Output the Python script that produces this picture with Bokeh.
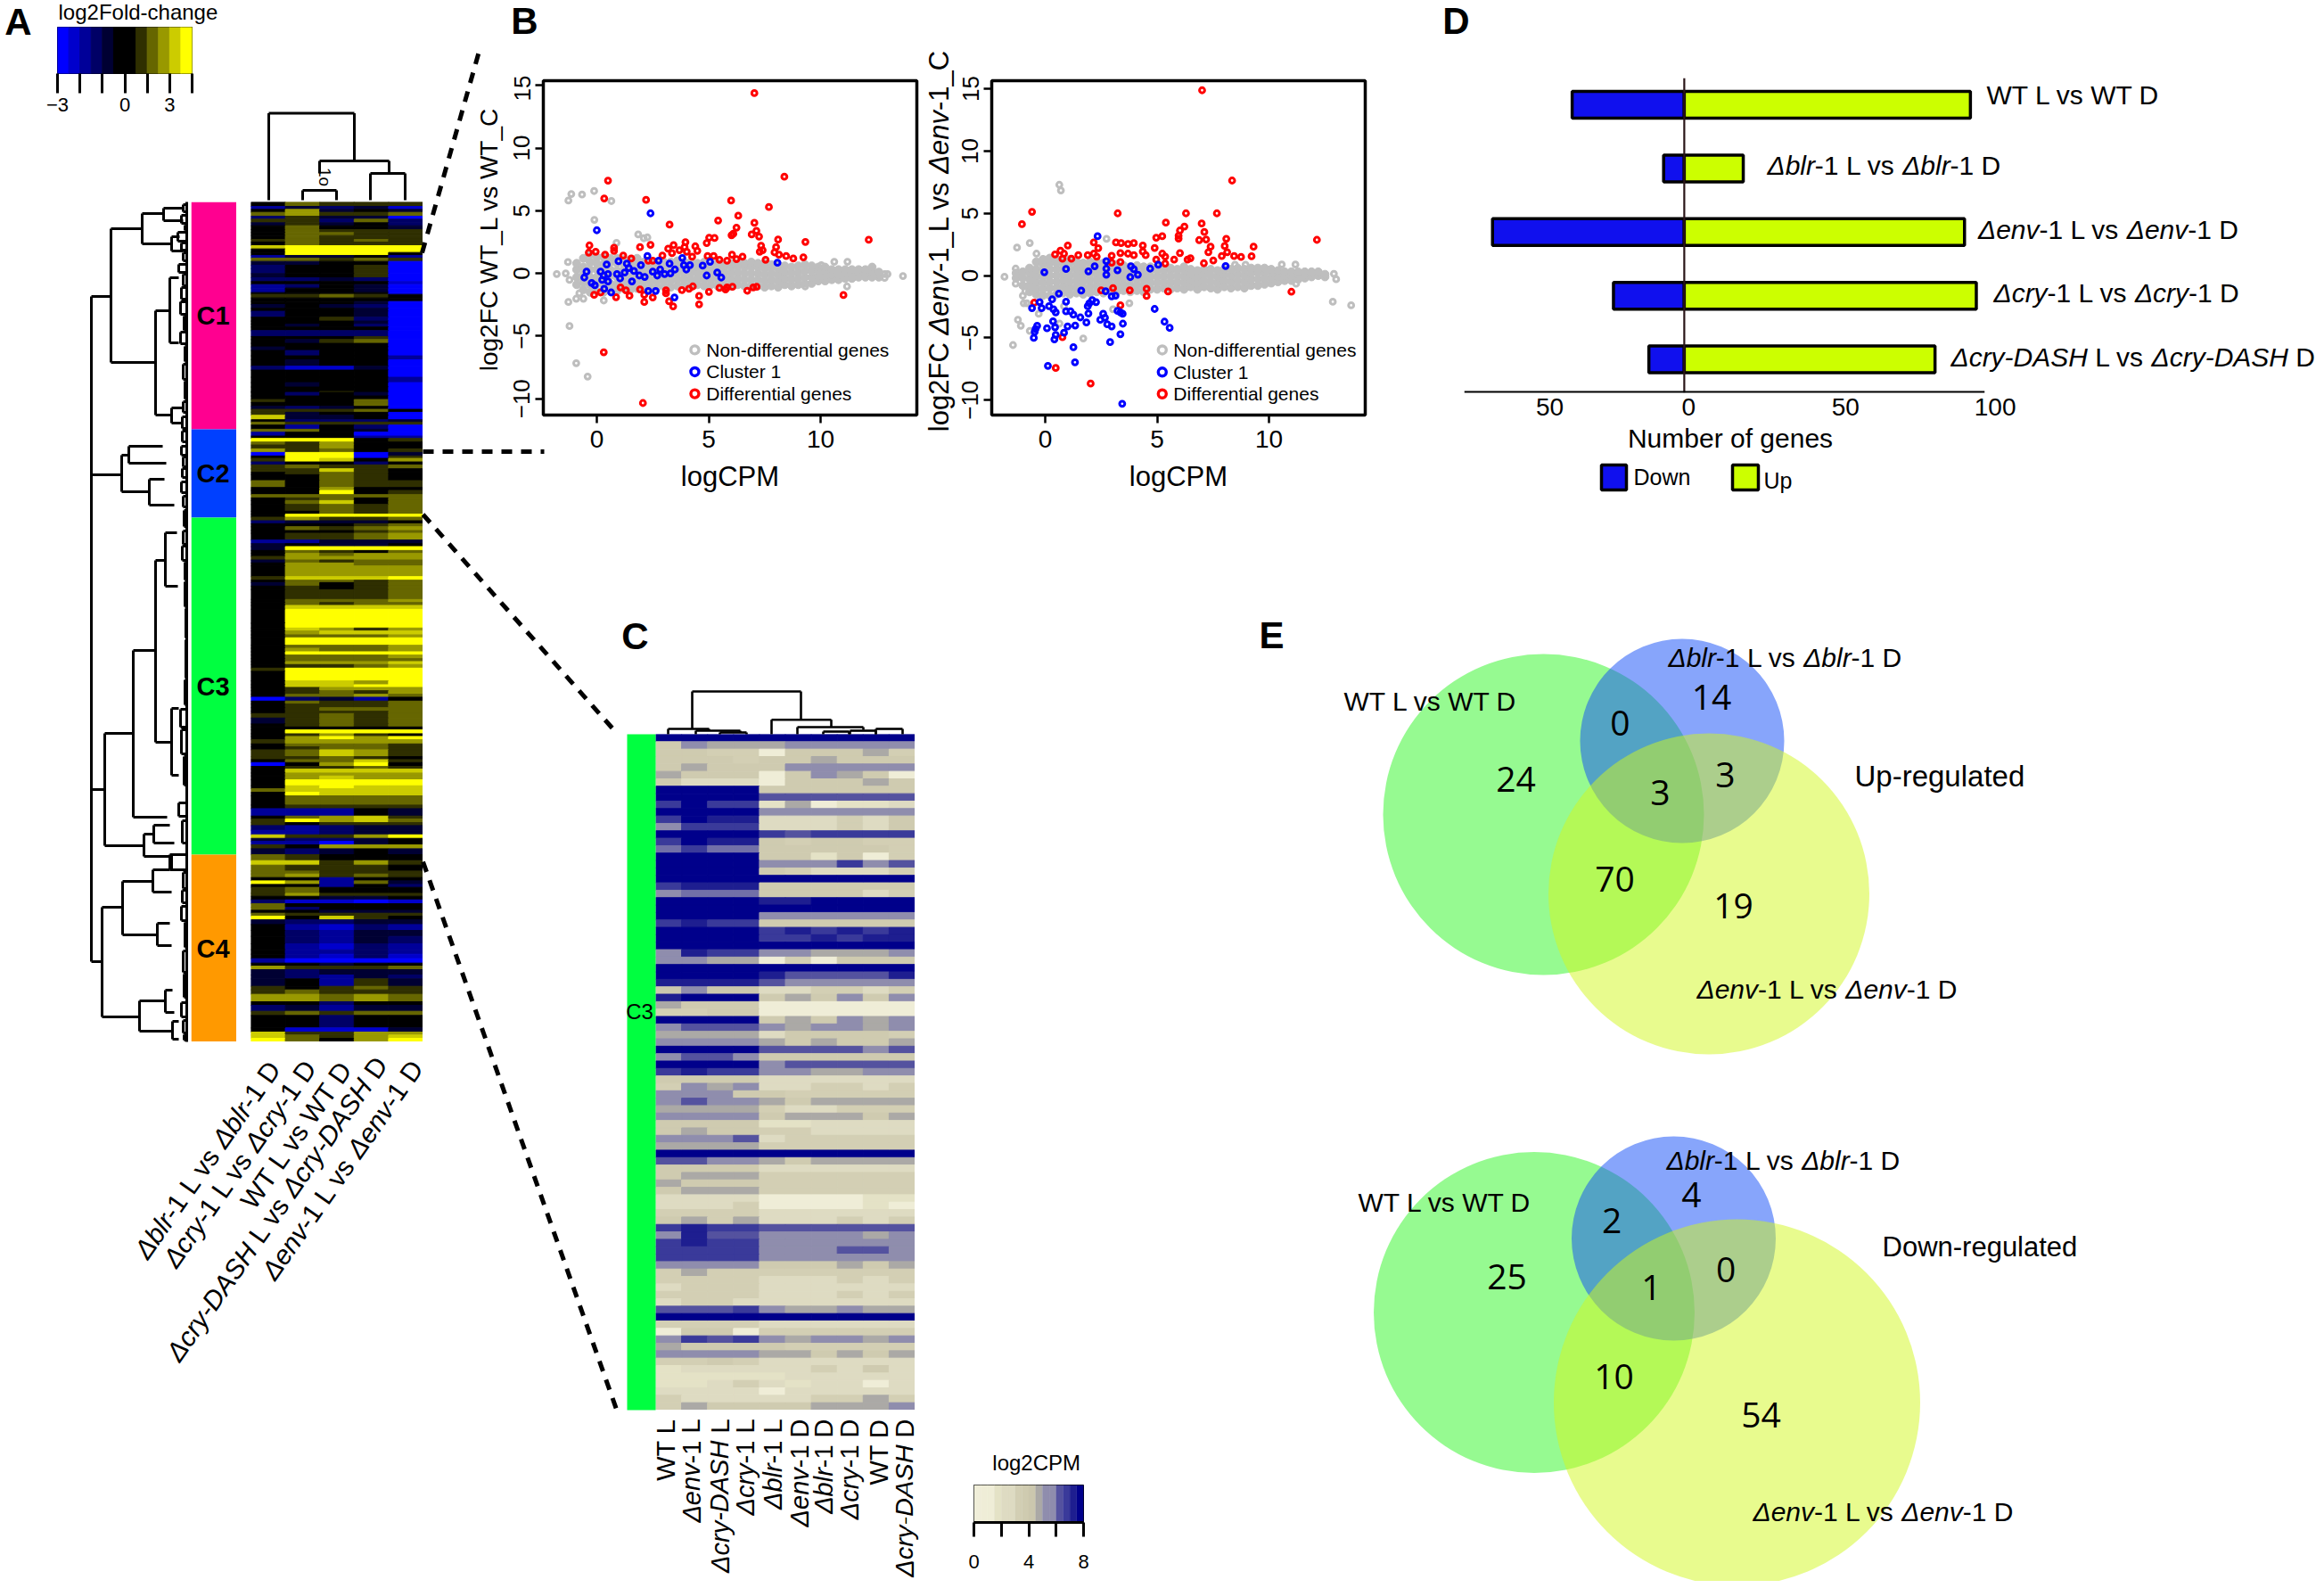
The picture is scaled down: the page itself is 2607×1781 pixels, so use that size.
from bokeh.plotting import figure
from bokeh.layouts import column
from bokeh.embed import file_html
from bokeh.resources import INLINE
from bokeh.core.properties import value
from bokeh.models import Range1d, FixedTicker, LinearColorMapper, ColumnDataSource

W, H = 2599, 1773
SANS = "Liberation Sans"

# ---------------- Panel A heatmap: band height, then level for each of 5 contrasts
A_COLS = ["blr", "cry", "WT", "DASH", "env"]
A_BANDS = [
[15,0,2,1,1,1],[10,-3,-1,-2,-1,-4],[10,0,3,-1,0,-1],[13,2,3,1,1,2],[10,-2,1,-1,-1,-5],[12,1,1,-2,2,-2],[10,-1,1,-1,0,-2],
[13,0,2,0,0,-1],[10,0,2,1,1,1],[10,0,2,2,1,1],[13,0,2,1,1,1],[9,1,2,1,2,1],[12,0,2,1,1,1],[11,4,5,5,5,5],[12,0,5,5,5,5],
[10,0,5,5,5,0],[9,-3,-1,-1,0,-3],[11,2,2,1,2,1],[13,-1,-1,0,0,-5],[12,-2,0,0,1,-5],[16,-2,0,0,1,-5],[14,-1,0,0,1,-5],
[13,-2,-2,-1,-2,-5],[10,0,0,0,0,-4],[12,-3,-2,0,-1,-5],[15,-3,0,0,-1,-5],[6,0,0,0,0,-5],[12,1,1,2,1,0],[12,0,0,0,0,0],
[10,0,0,0,-1,-5],[13,-1,0,-1,-2,-5],[10,0,0,0,-1,-5],[20,-2,0,0,-1,-5],[13,0,0,1,-2,-5],[10,0,0,0,-1,-5],[10,0,-1,0,-2,-5],
[12,0,0,0,0,-5],[20,-2,-2,-2,-2,-5],[10,0,0,0,1,-5],[13,0,-1,1,2,-5],[12,0,0,0,0,-5],[12,-1,0,0,0,-5],[18,0,-2,0,0,-5],
[13,0,0,0,0,-3],[22,0,-1,0,0,-5],[13,-2,-4,-4,-1,-5],[24,0,0,0,0,-5],[18,0,0,0,0,-3],[15,0,-1,0,0,-5],[15,0,0,0,0,-5],
[3,0,0,1,0,-5],[12,0,-2,0,-1,-5],[12,0,0,0,0,-5],[10,1,0,0,2,-5],[13,0,0,0,2,-5],[10,-1,-2,-1,0,-5],[10,1,1,1,2,0],
[10,1,-1,0,0,-5],[15,4,-1,-1,0,-5],[8,0,-2,-2,-2,-1],[10,2,1,1,1,1],[14,0,-3,0,-2,-5],[10,2,2,0,-1,-5],[13,-3,0,0,-5,-5],
[8,0,0,0,-3,-3],[12,5,5,5,0,1],[10,2,1,3,0,0],[13,1,1,3,0,0],[12,3,1,2,0,1],[12,-5,5,5,-5,-1],[8,0,5,5,-5,1],[12,1,5,4,0,3],
[10,-2,0,0,-2,0],[13,1,2,1,1,2],[12,1,1,4,1,0],[8,0,1,2,1,0],[20,0,0,2,1,0],[23,2,0,2,1,1],[10,0,0,3,0,0],[14,0,0,5,0,1],
[11,2,2,2,2,2],[9,0,1,2,0,2],[13,0,2,4,0,2],[23,0,1,2,1,2],[10,0,0,2,1,2],[10,0,5,5,5,5],[12,1,3,1,1,2],[10,-2,-1,-1,-1,0],
[10,0,0,0,1,2],[13,0,2,1,2,3],[9,0,0,0,1,2],[23,0,1,1,2,3],[12,-3,-3,-1,-1,-1],[10,-1,0,-1,-1,0],[13,-1,5,5,5,5],
[10,0,2,1,0,2],[10,0,3,2,3,3],[12,1,3,3,3,3],[10,-1,2,1,2,2],[10,0,3,3,2,2],[36,0,3,3,3,3],[12,1,4,4,4,5],[8,0,2,2,1,2],
[12,-1,2,0,1,2],[12,0,1,0,1,2],[33,0,1,1,1,2],[10,0,2,2,2,3],[10,0,2,1,2,2],[13,0,4,4,4,4],[47,0,5,5,5,5],
[16,0,5,5,5,5],[10,0,4,3,1,3],[13,0,3,4,4,4],[10,0,2,2,2,3],[25,0,5,5,5,5],[10,0,2,2,2,3],[12,0,3,2,2,3],[11,0,5,5,5,5],
[12,0,2,2,2,3],[10,0,2,2,2,2],[10,0,3,3,3,4],[12,0,1,1,2,3],[11,1,5,5,5,5],[32,0,5,5,5,5],[13,0,4,4,3,5],[9,0,4,4,5,5],
[11,0,1,3,3,3],[12,0,1,2,1,3],[10,0,2,2,3,2],[13,-5,-2,-1,-3,0],[10,0,2,1,1,2],[12,0,1,1,1,2],[12,0,1,2,2,2],[8,0,1,1,1,2],
[15,1,1,2,1,2],[20,-1,1,2,1,2],[10,0,1,2,1,2],[10,0,0,0,0,0],[13,0,5,5,5,5],[9,0,1,3,1,0],[11,0,3,5,3,5],[14,1,3,3,3,3],
[10,0,2,2,2,1],[10,0,1,2,2,1],[23,1,2,4,3,1],[10,1,1,2,1,0],[10,0,2,2,4,1],[13,-5,0,3,5,0],[9,0,1,1,2,1],[13,0,4,4,4,4],
[10,0,3,3,3,3],[13,0,3,4,3,3],[20,0,5,5,5,5],[10,0,4,5,4,4],[12,2,4,4,4,4],[12,0,5,4,4,4],[31,0,2,2,2,2],[12,0,1,1,1,1],
[25,-3,-3,-3,0,-1],[10,0,2,3,4,1],[12,1,5,3,4,2],[10,1,0,1,1,1],[16,-2,-3,-2,-1,-1],[15,-3,-3,-2,-1,-1],[12,4,1,1,3,5],
[10,-1,-2,-2,-1,0],[12,-3,-3,-5,-1,0],[13,1,0,3,3,3],[20,-1,-2,-1,0,-1],[20,2,1,0,0,0],[15,4,4,1,3,1],[20,2,1,1,1,0],
[10,2,2,1,1,1],[12,2,3,1,2,1],[11,0,0,-3,0,0],[12,5,3,-3,2,-1],[10,0,0,-3,0,-2],[20,1,2,0,0,0],[10,1,3,1,1,1],[12,0,0,-1,-1,0],
[13,-2,-4,-4,-5,-4],[12,2,0,0,0,0],[10,2,-2,0,0,0],[10,0,0,-1,-1,-1],[10,2,1,1,1,1],[12,5,0,4,1,0],[16,-1,-2,-2,-1,-1],
[20,0,-3,-4,-2,-3],[20,0,-2,-3,-1,-1],[25,0,-2,-3,-1,-2],[20,0,-3,-4,-2,-3],[15,0,-3,-3,-2,-3],[15,0,-3,-4,-2,-4],
[15,-3,-5,-5,-5,-5],[10,0,0,-1,0,0],[12,3,1,1,1,2],[18,-1,-2,-1,-1,-1],[13,-1,-2,-3,-1,-2],[25,-1,0,-3,1,-1],[12,1,0,1,2,1],
[15,1,2,1,1,1],[25,3,3,2,3,2],[12,0,0,-2,0,0],[20,-2,-1,-3,-1,-1],[14,1,2,1,2,2],[42,0,0,-2,0,0],[14,0,-4,-4,-4,-1],
[10,4,1,1,3,3],[11,4,2,1,3,4],[12,5,2,0,3,5],
]
A_LEVEL_COLORS = ["#0000ff","#0000cc","#000099","#000066","#000033","#000000","#2f2f00","#666600","#999900","#cccc00","#ffff00"]
A_BAR_COLORS = ["#0000ff","#0000cc","#000099","#000066","#000033","#000000","#000000","#2f2f00","#666600","#999900","#cccc00","#ffff00"]
A_BAR_TICKS = [-3,-2,-1,0,1,2,3]
A_BAR_LABELS = {-3:"\u22123",-2:"",-1:"",0:"0",1:"",2:"3",3:""}
A_LABELS = [[("\u0394blr",1),("-1 L vs ",0),("\u0394blr",1),("-1 D",0)],
            [("\u0394cry",1),("-1 L vs ",0),("\u0394cry",1),("-1 D",0)],
            [("WT L vs WT D",0)],
            [("\u0394cry-DASH",1),(" L vs ",0),("\u0394cry-DASH",1),(" D",0)],
            [("\u0394env",1),("-1 L vs ",0),("\u0394env",1),("-1 D",0)]]
CLUSTER_NAMES = ["C1","C2","C3","C4"]
CLUSTER_SIZES = [255,99,378,210]
CLUSTER_COLORS = ["#ff0090","#0040ff","#00ff40","#ff9900"]

# ---------------- Panel B: MA plots (logCPM, log2FC)
B1_RED_X = [7.04,8.38,.5,.33,2.2,6.0,7.69,6.32,5.42,3.25,7.04,6.24,7.13,6.92,7.25,6.02,6.1,5.02,5.26,4.91,8.1,9.32,12.15,-.33,-.36,-.05,.37,.77,.77,1.18,1.54,1.93,2.4,3.19,3.43,3.96,3.92,3.69,4.02,4.4,4.49,4.26,2.93,3.36,2.3,2.5,4.95,5.22,5.48,5.82,6.04,6.24,6.51,7.34,7.41,7.28,7.54,8.01,7.94,8.14,8.46,8.78,9.23,-.12,.17,.86,1.06,1.3,1.46,1.93,2.12,2.12,2.5,3.09,3.09,3.23,3.41,3.8,4.12,4.29,4.57,4.57,5.01,5.48,5.75,5.82,6.06,6.72,6.99,7.14,11.02,.31,2.06]
B1_RED_Y = [14.38,7.71,7.4,5.98,5.86,5.81,5.29,4.6,4.22,3.89,4.03,3.65,3.39,3.11,2.94,3.04,3.16,2.85,2.82,2.42,2.7,2.51,2.68,2.23,1.66,1.73,1.49,2.04,1.8,1.42,1.19,2.09,2.28,1.97,2.25,2.49,2.09,1.85,1.73,2.16,1.8,1.33,1.42,1.61,1.02,1.02,1.38,1.38,1.09,1.02,1.49,1.14,1.33,2.21,1.85,1.73,1.09,2.09,1.68,1.49,1.38,1.19,1.28,-1.71,-1.52,-1.9,-1.12,-1.35,-1.78,-1.28,-1.71,-2.28,-1.92,-1.35,-1.59,-2.23,-2.63,-1.33,-1.23,-1.04,-1.8,-2.47,-1.47,-1.16,-1.28,-1.12,-1.07,-1.38,-1.12,-1.07,-1.73,-6.29,-10.34]
B1_BLUE_X = [2.4,0,2.26,.97,2.76,3.82,3.25,1.34,.44,1.97,3.89,4.16,4.73,5.06,8.07,-.46,-.56,-.23,-.09,.17,.31,.5,.24,.5,.9,1.04,1.24,1.43,1.66,1.9,2.14,2.5,2.7,2.83,3.03,3.29,3.49,4.0,4.91,5.38,5.56,1.57,.33,.64,2.3,2.63,3.47]
B1_BLUE_Y = [4.79,3.44,1.38,.97,1.02,1.23,.78,.78,.71,.66,.66,.66,.62,.93,.85,.14,-.33,-.76,-.95,.14,-.17,-.05,-.52,-.64,-.05,-.4,.07,.43,.19,-.17,-.28,.14,-.17,.31,-.05,0,.31,.31,-.17,.07,-.33,-.64,-1.23,-1.52,-1.4,-1.4,-1.92]
B1_GREY_X = [-1.27,-1.14,-.66,-.12,.65,-.11,1.85,2.26,2.1,.88,-1.29,-1.79,-1.39,-1.22,-1.27,-.92,-.6,-.78,.31,-1.22,-.92,-.41,10.61,11.2,11.18,10.03,12.86,12.99,12.86,13.68,9.31]
B1_GREY_Y = [5.81,6.33,6.29,6.57,5.77,4.27,3.11,2.87,2.8,2.44,.9,-.05,0,-.52,-2.28,-2.02,-2.02,-1.59,-2.16,-4.2,-7.16,-8.23,.93,.93,-1.04,.66,-.05,-.05,-.36,-.21,-1.04]
B1_BAND = [
(-.9,[-.9,-.3,.3,.8]),(-.6,[-1.3,-.7,-.1,.5,1.2]),(-.3,[-1.5,-.9,-.3,.3,.9,1.5]),(0,[-1.4,-.8,-.3,.3,.8,1.3]),
(.3,[-1.5,-.9,-.4,.2,.7,1.3]),(.6,[-1.3,-.8,-.2,.3,.9,1.2]),(.9,[-1.4,-.9,-.3,.2,.8,1.2]),(1.2,[-1.2,-.7,-.2,.3,.8,1.1]),
(1.5,[-1.3,-.8,-.3,.2,.7,1.1]),(1.8,[-1.2,-.7,-.2,.3,.8,1.2]),(2.1,[-1.1,-.6,-.1,.4,.9]),(2.4,[-1.2,-.7,-.2,.3,.8]),
(2.7,[-1.1,-.6,-.1,.4,.9]),(3,[-1.0,-.5,0,.5,.9]),(3.3,[-1.1,-.6,-.1,.4,.9]),(3.6,[-1,-.5,0,.5,1]),(3.9,[-.9,-.4,.1,.5,.9]),
(4.2,[-1,-.5,0,.4,.9]),(4.5,[-.9,-.4,.1,.5,.8]),(4.8,[-1,-.5,0,.5,.9]),(5.1,[-.9,-.4,.1,.6]),(5.4,[-1,-.5,0,.5,.8]),
(5.7,[-.9,-.4,.1,.6]),(6,[-1,-.5,0,.5,.8]),(6.3,[-.9,-.4,.1,.6,.8]),(6.6,[-1,-.5,0,.5,.8]),(6.9,[-1,-.5,0,.5,.9]),
(7.2,[-1,-.5,0,.5,.8]),(7.5,[-1.1,-.6,-.1,.4,.8]),(7.8,[-1,-.5,0,.5,.7]),(8.1,[-1.1,-.6,-.1,.4,.7]),(8.4,[-.9,-.4,.1,.6]),
(8.7,[-1,-.5,0,.5]),(9,[-.9,-.4,.1,.6]),(9.3,[-.8,-.3,.2,.7]),(9.6,[-.8,-.3,.2,.6]),(9.9,[-.6,-.2,.2,.5]),(10.2,[-.6,-.2,.2,.5]),
(10.5,[-.5,-.1,.3]),(10.8,[-.5,-.1,.3]),(11.1,[-.4,0,.3]),(11.4,[-.4,0,.3]),(11.7,[-.3,.1,.3]),(12,[-.3,0,.3]),(12.3,[-.3,.1,.5]),(12.6,[-.3,-.1,.1]),
]
B2_RED_X = [7.01,8.35,-.59,-1.04,3.24,6.29,7.67,5.39,6.99,6.22,6.02,5.96,5.96,7.11,7.19,6.88,5.23,4.96,8.09,12.14,2.17,3.16,3.39,3.7,3.96,4.36,1.01,2.37,.68,.84,.44,1.48,1.9,1.17,.77,2.17,2.3,2.97,3.36,3.7,3.96,4.36,4.49,4.89,5.23,5.36,4.96,5.76,6.02,6.36,6.49,7.39,7.29,7.51,7.09,8.02,8.13,7.89,8.44,8.75,9.22,9.31,2.97,3.36,5.36,2.5,3.03,3.78,4.53,4.53,5.49,11.0,3.36,-.49,.77,.47,2.03]
B2_RED_Y = [14.88,7.63,5.12,4.13,5,5,5,4.25,4.18,3.94,3.62,3.21,2.97,3.5,2.9,2.85,3.16,3.04,2.95,2.87,2.66,2.66,2.61,2.54,2.61,2.42,2.42,2.2,2,1.76,1.69,1.64,1.64,1.35,1.35,1.76,1.52,1.59,1.81,1.76,1.64,1.93,1.64,2.22,1.76,1.52,1.28,1.28,1.81,1.28,1.4,2.32,1.88,1.21,.99,2.37,1.88,1.57,1.57,1.5,1.55,2.32,1.04,1.09,.97,-1.18,-1.01,-1.18,-1.06,-1.64,-1.28,-1.3,-2.39,-2.17,-4.95,-7.42,-8.67]
B2_BLUE_X = [2.34,2.73,2.73,2.73,2.21,1.93,.93,-.04,3.23,3.83,3.96,3.8,4.14,4.69,5.05,8.06,.61,1.61,2.7,2.97,3.14,-.25,.31,.93,-.59,-.16,.17,.37,.47,.93,1.13,1.26,1.57,1.97,1.9,2.1,2.27,1.93,1.84,4.89,2.59,2.67,2.46,2.77,2.97,3.23,3.36,3.46,3.47,.35,.08,.44,-.36,-.43,-.47,1.0,1.34,.84,.47,-.51,.41,3.36,2.9,5.33,5.56,1.26,1.33,.12,3.44]
B2_BLUE_Y = [3.16,1.16,.56,.07,.75,.34,.53,.27,.43,.75,.51,-.12,.07,.56,.87,.77,-1.45,-1.21,-1.26,-1.67,-1.62,-2.13,-1.91,-2.1,-2.61,-2.61,-2.46,-2.71,-2.95,-2.87,-2.87,-3.14,-3.36,-2.22,-2.46,-1.98,-2.13,-3.04,-3.77,-2.68,-3.07,-3.38,-3.55,-3.91,-4.08,-2.83,-2.95,-3.07,-3.86,-3.67,-4.23,-4.15,-4.03,-4.28,-4.52,-4.08,-4.01,-4.59,-4.76,-5.0,-5.12,-4.71,-5.34,-3.7,-4.2,-5.75,-6.96,-7.25,-10.29]
B2_GREY_X = [.63,.7,-.69,-1.26,-.39,2.74,-1.82,-1.32,-1.0,-.89,-.82,-.29,-1.22,-1.09,-.69,.64,1.7,-1.44,3.76,3.03,10.57,11.18,12.9,13.0,12.85,13.67,11.21,8.95,8.48,-1.32,-.96,.84]
B2_GREY_Y = [7.29,6.84,2.61,2.25,1.76,2.95,-.1,-.65,-1.62,-1.26,-2.22,-3.07,-3.55,-4.03,-4.44,-3.86,-5.05,-5.58,-2.22,-2.71,.89,.89,.14,-.29,-2.1,-2.39,-.65,.87,.87,.56,-2.22,-2.46]
B2_BAND = [
(-1.3,[-.2,.2]),(-1.0,[-.8,-.2,.3]),(-.7,[-1.3,-.8,-.3,.2,.6]),(-.4,[-1.5,-1,-.5,0,.5,1.1]),(-.1,[-1.6,-1.1,-.6,-.1,.4,.9,1.3]),
(.2,[-1.6,-1,-.5,0,.5,1,1.4]),(.5,[-1.5,-1,-.5,0,.5,1,1.3]),(.8,[-1.4,-.9,-.4,.1,.6,1.1]),(1.1,[-1.5,-1,-.5,0,.5,1,1.3]),
(1.4,[-1.4,-.9,-.4,.1,.6,1.1]),(1.7,[-1.5,-1,-.5,0,.5,1]),(2,[-1.4,-.9,-.4,.1,.6,1.1]),(2.3,[-1.3,-.8,-.3,.2,.7,1.1]),
(2.6,[-1.4,-.9,-.4,.1,.6,1]),(2.9,[-1.2,-.7,-.2,.3,.8]),(3.2,[-1.3,-.8,-.3,.2,.7,.9]),(3.5,[-1.2,-.7,-.2,.3,.8]),
(3.8,[-1.3,-.8,-.3,.2,.7]),(4.1,[-1.2,-.7,-.2,.3,.8]),(4.4,[-1.3,-.8,-.3,.2,.7]),(4.7,[-1.1,-.6,-.1,.4,.7]),(5,[-1.1,-.6,-.1,.4,.7]),
(5.3,[-1,-.5,0,.5]),(5.6,[-1.1,-.6,-.1,.4,.6]),(5.9,[-1,-.5,0,.5]),(6.2,[-1.1,-.6,-.1,.4,.7]),(6.5,[-.9,-.4,.1,.5]),
(6.8,[-1.1,-.6,-.1,.4]),(7.1,[-.9,-.4,.1,.5]),(7.4,[-1,-.5,0,.5]),(7.7,[-1.1,-.6,-.1,.4]),(8,[-.9,-.4,.1,.5]),
(8.3,[-1,-.5,0,.5]),(8.6,[-.9,-.4,.1,.6]),(8.9,[-1,-.5,0,.5]),(9.2,[-.8,-.3,.2,.6]),(9.5,[-.8,-.3,.2,.6]),(9.8,[-.7,-.2,.3,.6]),
(10.1,[-.6,-.2,.2,.5]),(10.4,[-.5,-.1,.3,.4]),(10.7,[-.4,0,.3]),(11,[-.4,0,.3]),(11.3,[-.3,.1,.3]),(11.6,[-.2,.1,.3]),(11.9,[-.1,.2,.3]),(12.2,[0,.2,.3]),(12.5,[-.1,.1]),
]
B_LEGEND = ["Non-differential genes","Cluster 1","Differential genes"]
B_LEGEND_COLORS = ["#bebebe","#0000ff","#ff0000"]

# ---------------- Panel C heatmap: log2CPM, columns as below
C_COLS = [[("WT L",0)],[("\u0394env",1),("-1 L",0)],[("\u0394cry-DASH",1),(" L",0)],[("\u0394cry",1),("-1 L",0)],[("\u0394blr",1),("-1 L",0)],
          [("\u0394env",1),("-1 D",0)],[("\u0394blr",1),("-1 D",0)],[("\u0394cry",1),("-1 D",0)],[("WT D",0)],[("\u0394cry-DASH",1),(" D",0)]]
C_ROWS = [
[8]*10,[4,6,5,5,5,6,6,6,5.5,6],[4,4,3.5,3.5,1.5,4,4,4,5,3.5],[4,4,4,3.5,4,4,5.2,4,4,4],[4,5,4,4,4,6,6,5.5,5.5,5.5],
[5,4,4,4,1,4,6,5,4,1.5],[4,2.5,2.5,2.5,1,4,4,4,5,4],[8,8,8,8,4,4,4,4,4,4],[8,8,8,8,6.5,6.5,6.5,6.5,6.5,6.5],[7,8,7,7,2,5,1.5,2,2,2.5],
[8,8,8,8,5.5,5.5,5.5,5.5,5.5,5.5],[7.2,8,7.5,7.5,3,3,3,3.5,3,4],[6,7,7,7,3,3,3,3.5,3,4],[8,8,8,8,7,6.5,7,7,7,7],[7,8,7.5,7.5,4,3.5,4,4,3.5,3.5],
[6.2,7,6.2,6.2,4,4,4,4,4,3.5],[8,8,8,8,4,4,2,4,1.5,3.5],[8,8,8,8,6,6,6,7,6,6.5],[8,8,8,8,4,3.5,3,3,3,3.5],[8]*10,
[7,7.5,7.5,7.5,4,4,4,4,4,4],[5.5,6.2,6.2,6.2,4,4,4,4,3,3.5],[8,8,8,8,7.5,7.5,8,8,8,8],[8]*10,[8,8,8,8,6,6,6,6,6,6],
[7,7.5,7,7,4,4,4,4,4,4],[8,8,8,8,7,7.8,7,7.8,7,7.8],[8,8,8,8,7,7,7.5,7,7.5,7.5],[8]*10,[6,7.5,7,7,5.5,5.5,5,5,5,5.5],
[5.5,6,5.3,5.3,1.5,3.5,1.5,4,4,4],[8]*10,[8,8,8,8,7.5,6.5,6.5,6.5,6.5,7.5],[7.5,7.5,7.5,7.5,6.5,6,6,6,6,6],[4.5,5.5,4.5,4.5,3,3,3.5,3.5,3,3.5],
[7.8,8,8,8,4,5,4,5.5,4,5.5],[5,4,4,4,1,1,1,1,1.5,1],[3.5,3.5,4,4,1,1,1,1,1,1],[8,8,8,8,4,5,4,5.5,5,5.5],[6,6.5,6.5,6.5,5.5,5,5.5,5.5,5,5.5],
[5.2,5.2,5.2,5.2,3,4,4,4,4,3.5],[6,6,6,6,5,4,5,4,4,5],[8,8,8,8,6.5,6.5,6.5,6.5,5.5,6.5],[5.5,6.5,6.5,6,4,4,4,4,4,4],[8,8,8,8,6,6.5,6.5,6.5,6.5,6.5],
[7,7.5,7,7,6,6,5,5,6,6],[4,4,4,4,3,3,3,3,3,3],[3.5,5.5,5,5.5,3,3,3.5,3.5,3,3.5],[5.5,5.5,5.5,4,4,3.8,3.5,3.5,3.5,3.5],[6,6.5,6,6,5,4,5,5,5,5],
[5,5,5,5,3.5,3,3,3.5,3.5,3.5],[5.5,6,6,6,4,5,5,5,4,5],[4,4,4,4,2,2,2.5,2.5,3,2.5],[4,5,4,4,3.5,3.5,3,3,3,3],[6,6,6,6.5,3,3.5,3.5,3.5,3.5,3.5],
[5,5,5,5,3.5,3.5,3.5,3.5,3.5,3.5],[8]*10,[6.5,6.5,6,6,5,4,5,5,5,5],[4,4,4,4,3,3,3,3,3,3],[4,5,5,5,3.5,3.5,3.5,3.5,3.5,3.5],
[5,4,4,4,3.5,3.5,3.5,3.5,3.5,3.5],[4,5,5,5,3.5,3.5,3.5,3.5,3.5,3.5],[3,3,2.5,3,1.5,1.5,1,1.5,2,2],[3,3,3,3.5,1.5,1.5,1.5,1.5,2,1.5],[3.5,3.5,3.5,3.5,3,3,3,3,2.5,2.5],
[4,5,3.5,5,3,3,3,3.5,3,3.5],[7,7.5,7,7,6.5,6.5,6.5,6.5,6.5,6.5],[6,7.5,6.5,6.5,6,5.5,5.5,5.8,5,5.5],[7,7.5,7,7,6,6,6,6,6,6],[7,7,7,7,5.5,5.5,6,6.5,6.5,6],
[7,7,7,7,5.5,5.5,6,6,6,6],[5.5,6,5.5,5.5,4,4,4,5,4,5],[3.5,5,3.5,3.5,3.5,3.5,3.5,3.5,3.5,3.5],[3.5,3.8,3.5,3.8,3,3,3,3.5,3,3.5],[3,3.5,3.5,3.5,3,3,3,3,3,3],
[3.5,3.5,3.5,3.8,3,3,3,3.5,3,3.5],[3,3.5,3.5,3,2.5,2.5,2.5,2.5,2.5,2.5],[6.5,6.5,6.5,7,5.5,5,5,5.5,5,5],[8]*10,[3.5,3.5,3.5,3.5,3,3,3,3,3,3],
[1.5,4,4,1.5,3.5,3.5,3.5,3.8,3.8,3.5],[6,7,6.5,7,5.5,5,5.5,5.5,5,5.5],[5,4,4,4,4,3.5,3.5,3.5,3.5,3.5],[5.5,6,5.5,6,5,5,4,5,4,5],[3.5,3.5,4,3.5,3,3,3,3,3,3],
[2,2.5,2.5,2.5,2.5,3,3.5,3,4,3],[2,2,2,2,2,2.5,3,3,3,3],[2,2,2.5,3.5,2.5,2,3,3,1.5,3],[3,3,3,3,1.5,2.5,3,3,3,3],[3.5,3,3,3,3,3,3.5,3.5,5,3.5],
[3.5,5,4,4,4,4,5,5,5,5.5],
]
C_PALETTE = ["#f2f2dc","#f0eed9","#efedd7","#e9e7ce","#e4e2c6","#dedbc2","#d8d5bb","#d3cfb4","#cfcbb0","#cbc7ae","#aba9a6","#8f8dad","#7270a8","#54529f","#3a3a9a","#1e1e90","#00008b"]
C_BAR_VALUES = [.5,1,1.5,2,2.5,3,3.5,4,4.5,5,5.5,6,6.5,7,7.5,8]
C_BAR_TICKS = [0,2,4,6,8]
C_BAR_LABELS = {0:"0",2:"",4:"4",6:"",8:"8"}

# ---------------- Panel D
D_UP = [97,20,95,99,85]
D_DOWN = [38,7,65,24,12]
D_LABELS = [[("WT L vs WT D",0)],
            [("\u0394blr",1),("-1 L vs ",0),("\u0394blr",1),("-1 D",0)],
            [("\u0394env",1),("-1 L vs ",0),("\u0394env",1),("-1 D",0)],
            [("\u0394cry",1),("-1 L vs ",0),("\u0394cry",1),("-1 D",0)],
            [("\u0394cry-DASH",1),(" L vs ",0),("\u0394cry-DASH",1),(" D",0)]]
D_TICK_TEXT = ["50","0","50","100"]

# ---------------- Panel E
E_UP_COUNTS = ["24","14","0","3","3","70","19"]
E_DOWN_COUNTS = ["25","4","2","1","0","10","54"]

# ------------------------------------------------------------------ helpers
figs = []
def make(left, top, w, h, xr, yr, l=60, r=0, t=0, b=0, axes=False):
    kw = {} if axes else dict(x_axis_location=None, y_axis_location=None)
    p = figure(x_range=xr, y_range=yr, width=w+l+r, height=h+t+b, frame_width=w, frame_height=h,
               min_border_left=l, min_border_right=r, min_border_top=t, min_border_bottom=b,
               output_backend="svg", toolbar_location=None, tools="",
               background_fill_color=None, border_fill_color=None, outline_line_color=None, **kw)
    p.grid.visible = False
    p.styles = {"position":"absolute","left":f"{left-l}px","top":f"{top-t}px"}
    figs.append(p)
    return p

# Panel A heat
a_total = sum(r[0] for r in A_BANDS)
pa = make(281,226,193,942,Range1d(0,5),Range1d(a_total,0))
amap = LinearColorMapper(palette=A_LEVEL_COLORS, low=-5.5, high=5.5)
L,R,T,Bt,V = [],[],[],[],[]
y0 = 0
for row in A_BANDS:
    for i,v in enumerate(row[1:]):
        L.append(i);R.append(i+1);T.append(y0);Bt.append(y0+row[0]);V.append(v)
    y0 += row[0]
cm = {"field":"v","transform":amap}
pa.quad(left="l",right="r",top="t",bottom="b",source=ColumnDataSource(dict(l=L,r=R,t=T,b=Bt,v=V)),fill_color=cm,line_color=cm,line_width=1)

# cluster strip
ctot = sum(CLUSTER_SIZES)
pc = make(214,226,51,942,Range1d(0,1),Range1d(ctot,0))
edges=[sum(CLUSTER_SIZES[:i]) for i in range(5)]
pc.quad(left=0,right=1,top=edges[:-1],bottom=edges[1:],fill_color=CLUSTER_COLORS,line_color=None)
pc.text(x=[.48]*4,y=[(edges[i]+edges[i+1])/2 for i in range(4)],text=CLUSTER_NAMES,text_font=value(SANS),text_font_style="bold",
        text_font_size="29px",text_align="center",text_baseline="middle",text_color="#000000")

# colour bar A
pb = make(64,30,151,52,Range1d(-3,3),Range1d(0,1),b=60,r=12,axes=True)
n=len(A_BAR_COLORS)
pb.quad(left=[-3+6*i/n for i in range(n)],right=[-3+6*(i+1)/n for i in range(n)],top=1,bottom=0,fill_color=A_BAR_COLORS,line_color=A_BAR_COLORS)
pb.yaxis.visible=False
ax=pb.xaxis[0]; ax.ticker=FixedTicker(ticks=A_BAR_TICKS); ax.major_label_overrides=A_BAR_LABELS
ax.axis_line_color=None; ax.minor_tick_line_color=None; ax.major_tick_in=0; ax.major_tick_out=22; ax.major_tick_line_width=3
ax.major_label_text_font=SANS; ax.major_label_text_font_size="22px"; ax.major_label_standoff=5; ax.major_label_text_color="#000000"
pb.outline_line_color="#000000"; pb.outline_line_width=1

# Panel B
def band_pts(tbl):
    xs,ys=[],[]
    for x,vals in tbl:
        for v in vals:
            xs.append(x);ys.append(v)
    return xs,ys
def ma(left, xr, yr, gx,gy,band,rx,ry,bx,by,lx,tx,ly):
    p=make(left,90,419,375,Range1d(*xr),Range1d(*yr),l=60,r=6,t=6,b=100,axes=True)
    bxs,bys=band_pts(band)
    st=dict(fill_color=None,size=5.8,line_width=3,marker="circle")
    p.scatter(bxs,bys,line_color="#bebebe",fill_color="#bebebe",size=9,line_width=1,marker="circle")
    p.scatter(gx,gy,line_color="#bebebe",**st)
    p.scatter(rx,ry,line_color="#ff0000",**st)
    p.scatter(bx,by,line_color="#0000ff",**st)
    p.scatter([lx]*3,ly,line_color=B_LEGEND_COLORS,fill_color=None,size=9,line_width=3.4,marker="circle")
    p.text([tx]*3,ly,text=B_LEGEND,text_font=value(SANS),text_font_size="21px",text_baseline="middle",text_color="#000000")
    p.outline_line_color="#000000";p.outline_line_width=3.5
    p.xaxis.ticker=FixedTicker(ticks=[0,5,10]);p.yaxis.ticker=FixedTicker(ticks=[-10,-5,0,5,10,15])
    p.yaxis.major_label_orientation="vertical"
    for a in (p.xaxis[0],p.yaxis[0]):
        a.axis_line_color=None;a.minor_tick_line_color=None;a.major_tick_in=0;a.major_tick_out=9;a.major_tick_line_width=2.5
        a.major_tick_line_color="#000000"
        a.major_label_text_font=SANS;a.major_label_text_color="#000000"
    p.xaxis.major_label_text_font_size="28px";p.yaxis.major_label_text_font_size="26px"
    p.xaxis.major_label_standoff=8;p.yaxis.major_label_standoff=6
    p.xaxis.axis_label="logCPM";p.xaxis.axis_label_text_font=SANS;p.xaxis.axis_label_text_font_size="31px"
    p.xaxis.axis_label_text_font_style="normal";p.xaxis.axis_label_text_color="#000000";p.xaxis.axis_label_standoff=12
    return p
ma(609,(-2.39,14.3),(-11.3,15.37),B1_GREY_X,B1_GREY_Y,B1_BAND,B1_RED_X,B1_RED_Y,B1_BLUE_X,B1_BLUE_Y,4.38,4.89,[-6.1,-7.85,-9.6])
ma(1112,(-2.39,14.3),(-11.2,15.65),B2_GREY_X,B2_GREY_Y,B2_BAND,B2_RED_X,B2_RED_Y,B2_BLUE_X,B2_BLUE_Y,5.23,5.73,[-5.97,-7.75,-9.5])

# Panel C
n_c=len(C_ROWS)
pch=make(735,823,291,758,Range1d(0,10),Range1d(n_c,0))
cmap=LinearColorMapper(palette=C_PALETTE,low=0,high=8.5)
L,R,T,Bt,V=[],[],[],[],[]
for j,row in enumerate(C_ROWS):
    for i,v in enumerate(row):
        L.append(i);R.append(i+1);T.append(j);Bt.append(j+1);V.append(v)
cm2={"field":"v","transform":cmap}
pch.quad(left="l",right="r",top="t",bottom="b",source=ColumnDataSource(dict(l=L,r=R,t=T,b=Bt,v=V)),fill_color=cm2,line_color=cm2,line_width=1)

pcb=make(1092,1665,123,42,Range1d(0,8),Range1d(0,1),r=12,b=70,axes=True)
lo=[v-.5 for v in C_BAR_VALUES]
pcb.quad(left="l",right="r",top=1,bottom=0,source=ColumnDataSource(dict(l=lo,r=C_BAR_VALUES,v=C_BAR_VALUES)),fill_color=cm2,line_color=cm2,line_width=.3)
pcb.yaxis.visible=False
ax=pcb.xaxis[0];ax.ticker=FixedTicker(ticks=C_BAR_TICKS);ax.major_label_overrides=C_BAR_LABELS
ax.axis_line_color="#000000";ax.axis_line_width=3;ax.minor_tick_line_color=None;ax.major_tick_in=0;ax.major_tick_out=16;ax.major_tick_line_width=3
ax.major_label_text_font=SANS;ax.major_label_text_font_size="22px";ax.major_label_standoff=20;ax.major_label_text_color="#000000"
pcb.outline_line_color="#000000";pcb.outline_line_width=1

# Panel D
pd_=make(1642,87,640,353,Range1d(-74.6,118.8),Range1d(4.524,-.42),b=40,axes=True)
ys=list(range(5))
bar=dict(height=.42,line_color="#000000",line_width=3.5)
pd_.hbar(y=ys,left=[-v for v in D_DOWN],right=0,fill_color="#1010ee",**bar)
pd_.hbar(y=ys,left=0,right=D_UP,fill_color="#ccff00",**bar)
pd_.segment(x0=[0],x1=[0],y0=[-.42],y1=[4.524],line_color="#2a1518",line_width=2.2)
pd_.segment(x0=[-74.6],x1=[101.8],y0=[4.524],y1=[4.524],line_color="#000000",line_width=4)
pd_.yaxis.visible=False
ax=pd_.xaxis[0];tk=[-45.6,1.5,54.7,105.4];ax.ticker=FixedTicker(ticks=tk)
ax.major_label_overrides=dict(zip(tk,D_TICK_TEXT))
ax.axis_line_color=None;ax.major_tick_line_color=None;ax.minor_tick_line_color=None
ax.major_tick_in=0;ax.major_tick_out=0
ax.major_label_text_font=SANS;ax.major_label_text_font_size="28px";ax.major_label_standoff=6;ax.major_label_text_color="#000000"

# panel letter A sits left of the overlay's frame
pl=make(2,0,50,48,Range1d(2,52),Range1d(48,0))
pl.text([20],[24],text=["A"],text_font=value(SANS),text_font_style="bold",text_font_size="42px",text_align="center",text_baseline="middle",text_color="#000000")

# ---------------- overlay: connectors, dendrograms, venns, texts
ov=make(60,0,W-60,H,Range1d(60,W),Range1d(H,0))
# Venns (order green, blue, yellow)
VENN_COLORS=["#2df523","#0f4bf7","#d1f71d"]
for cx,cy,rd in [([1731,1886.5,1916.5],[913,830.5,1002],[180,114.5,180]),([1720.5,1877,1948],[1471.5,1388.5,1572.5],[180,114.5,205.5])]:
    for i in range(3):
        ov.circle(x=[cx[i]],y=[cy[i]],radius=rd[i],fill_color=VENN_COLORS[i],fill_alpha=.5,line_color=None)

# dendrogram brackets: spine x, y1, y2, arm1 x, arm2 x
DL=[(102,332,532,124,136),(124,256,406,159,174),(159,239,273,183,192),(174,348,465,190,192),(136,510,551,144,167),(144,500,519,182,186),
(167,537,566,184,195),(114,1017,1140,137,156),(137,988,1048,171,176),(156,1122,1156,185,193),(117,822,948,149,161),(149,729,916,174,187),
(174,628,832,185,192),(185,597,657,198,199),(192,794,869,200,200),(102,431,1078,102,114),(102,885,885,117,117),(190,311,384,200,200),
(192,457,474,205,205),(183,233,247,205,205),(192,265,281,201,205),(161,935,960,172,190),(172,925,945,190,195),(190,958,975,200,200),
(171,975,1000,190,192),(176,1035,1060,190,192),(185,1110,1135,193,195),(193,1145,1165,200,200)]
DS=[(205,229,237),(203,241,250),(207,252,258),(199,260,270),(203,272,280),(205,283,292),(200,296,305),(205,307,320),(203,322,335),(202,338,352),
(206,354,370),(202,372,385),(207,388,405),(205,408,425),(207,427,447),(205,450,462),(204,467,480),(204,483,495),(203,500,510),(205,512,523),
(204,525,535),(203,540,552),(205,556,568),(206,572,590),(205,595,610),(204,612,628),(207,630,650),(207,652,680),(208,682,715),(208,717,760),
(207,762,790),(202,795,815),(203,818,845),(206,848,880),(200,900,915),(204,920,945),(192,958,975),(205,978,996),(204,998,1012),(203,1016,1032),
(207,1034,1062),(205,1066,1090),(206,1092,1118),(203,1124,1140),(205,1144,1158),(206,1160,1166)]
x0,y0,x1,y1=[],[],[],[]
for s,a,b,ax1,ax2 in DL:
    x0+=[s,s,s];y0+=[a,a,b];x1+=[s,ax1,ax2];y1+=[b,a,b]
for s,a,b in DS:
    x0+=[s,s,s];y0+=[a,a,b];x1+=[s,210,210];y1+=[b,a,b]
x0.append(209);y0.append(226);x1.append(209);y1.append(1168)
ov.segment(x0,y0,x1,y1,line_color="#000000",line_width=3)
# column dendrograms: x1, x2, y top, y1 bottom, y2 bottom
TOPS_A=[(301,397,126.5,224,180),(358,436,180,194,194),(339,377,213,224,224),(415,454,194,224,224)]
TOPS_C=[(776,898,775,817,806.7),(865,932,806.7,823,815),(894,968,815,823,818),(749,795,817,823,819),(780,830,819,823,821),(807,837,821,823,823),
        (923,952,820,823,823),(953,982,819,823,823),(982,1012,817,823,823)]
for tops,lw in ((TOPS_A,3),(TOPS_C,2.6)):
    xa,ya,xb,yb=[],[],[],[]
    for a,b,t,d1,d2 in tops:
        xa+=[a,a,b];ya+=[t,t,t];xb+=[b,a,b];yb+=[t,d1,d2]
    ov.segment(xa,ya,xb,yb,line_color="#000000",line_width=lw)
# dashed connectors
ov.segment([473,474,474,474],[283,506,576.5,966],[537,610,688,691],[57,506,818,1580],line_color="#000000",line_width=5,line_dash="12 10")
# C strip
ov.quad(left=[703],right=[735],top=[823],bottom=[1581],fill_color="#00ff40",line_color=None)
# D legend
ov.quad(left=[1796,1943],right=[1824,1972],top=[521,521],bottom=[549,549],fill_color=["#1010ee","#ccff00"],line_color="#000000",line_width=3.5)

# widths for sequential text layout (Helvetica metrics, em)
WD={' ':.278,'-':.333,'_':.556,'\u0394':.668,'D':.722,'A':.667,'S':.667,'H':.722,'L':.556,'W':.944,'T':.611,'C':.722,'F':.611,'U':.722,'N':.722}
for ch in "abdeghnopqu0123456789":WD[ch]=.556
for ch in "cksvxyz":WD[ch]=.5
for ch in "ijl":WD[ch]=.222
for ch in "ft":WD[ch]=.278
WD['r']=.333;WD['m']=.833;WD['w']=.722
import math
texts={0:dict(x=[],y=[],t=[],s=[],a=[]),1:dict(x=[],y=[],t=[],s=[],a=[])}
def rich(segs,x,y,size,angle=0,align="left"):
    tot=sum(WD.get(c,.556) for s,_ in segs for c in s)*size
    off={"left":0,"center":-tot/2,"right":-tot}[align]
    ca,sa=math.cos(math.radians(angle)),math.sin(math.radians(angle))
    for s,it in segs:
        lead=len(s)-len(s.lstrip(" "))
        off+=lead*WD[' ']*size
        d=texts[it]
        d["x"].append(x+off*ca);d["y"].append(y-off*sa);d["t"].append(s.strip(" "));d["s"].append(f"{size}px");d["a"].append(math.radians(angle))
        off+=sum(WD.get(c,.556) for c in s.lstrip(" "))*size

# panel A labels
for seg,x,y in zip(A_LABELS,[307,347,388,427,467],[1193,1192,1192,1188,1192]):
    rich(seg,x,y,30,55,"right")
rich([("log2Fold-change",0)],65,13,24)
rich([("log2FC WT_L vs WT_C",0)],548,268,28,90,"center")
rich([("log2FC ",0),("\u0394env",1),("-1_L vs ",0),("\u0394env",1),("-1_C",0)],1053,270,31,90,"center")
for seg,x in zip(C_COLS,[746,775,807,835,866,896,923,952,985,1014]):
    rich(seg,x,1591,29,90,"right")
rich([("log2CPM",0)],1157.5,1640,24,0,"center")
rich([("C3",0)],717,1134,24,0,"center")
for seg,x,y in zip(D_LABELS,[2228,1982,2218.5,2236,2188],[106,185,257,328,400]):
    rich(seg,x,y,30)
rich([("Number of genes",0)],1940.5,491,30,0,"center")
rich([("Down",0)],1832,534,25);rich([("Up",0)],1978,538,25)
BLR=[("\u0394blr",1),("-1 L vs ",0),("\u0394blr",1),("-1 D",0)]
ENV=[("\u0394env",1),("-1 L vs ",0),("\u0394env",1),("-1 D",0)]
rich([("WT L vs WT D",0)],1507,785.6,30);rich(BLR,1871,737,30);rich(ENV,1903,1109,30);rich([("Up-regulated",0)],2080,870,33)
rich([("WT L vs WT D",0)],1523,1348,30);rich(BLR,1869,1301,30);rich(ENV,1966,1695,30);rich([("Down-regulated",0)],2111,1398,31)
for it,st in ((0,"normal"),(1,"italic")):
    d=texts[it]
    ov.text(x="x",y="y",text="t",angle="a",text_font_size="s",source=ColumnDataSource(d),text_font=value(SANS),text_font_style=st,
            text_baseline="middle",text_align="left",text_color="#000000")
# rotated stray mark in the A dendrogram
ov.text(x=[364],y=[198],text=["1o"],angle=[-math.pi/2],text_font=value(SANS),text_font_size="19px",text_align="center",text_baseline="middle",text_color="#000000")
# Venn counts
EUX=[1700,1919.5,1817,1862,1935,1811,1944];EUY=[873,781,810,888,868,985,1015]
EDX=[1690,1897,1807.6,1852,1935.6,1810,1975];EDY=[1431,1339.5,1368,1443,1423,1543,1586]
for xs_,ys_,ts in ((EUX,EUY,E_UP_COUNTS),(EDX,EDY,E_DOWN_COUNTS)):
    ov.text(xs_,ys_,text=ts,text_font=value("Open Sans"),text_font_size="39px",text_align="center",text_baseline="middle",text_color="#000000")
# panel letters
ov.text([588,712,1633,1426],[23,713,23,712],text=list("BCDE"),text_font=value(SANS),text_font_style="bold",text_font_size="42px",
        text_align="center",text_baseline="middle",text_color="#000000")

root=column(*figs,width=W,height=H,styles={"position":"relative"})
open("out.html","w").write(file_html(root,INLINE))
